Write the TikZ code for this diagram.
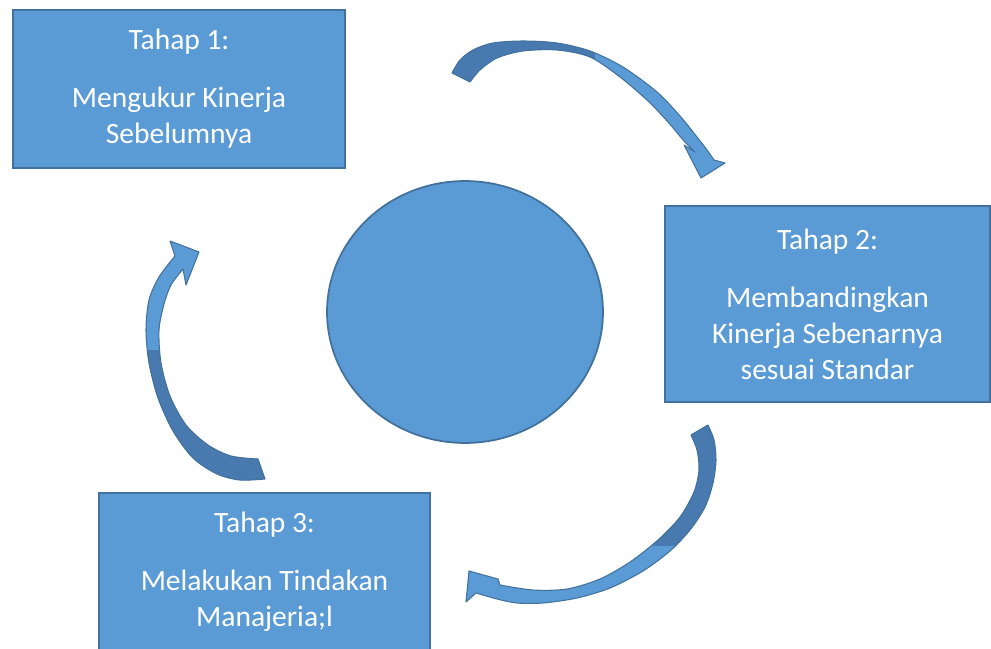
\documentclass[tikz,border=0pt]{standalone}
\usepackage{fontspec}
\setmainfont{Carlito}
\usetikzlibrary{shapes.geometric}
\definecolor{biru}{RGB}{91,155,213}
\definecolor{birutepi}{RGB}{65,113,156}
\definecolor{birugelap}{RGB}{72,122,176}
\tikzstyle{kotak} = [rectangle, draw=birutepi, fill=biru, line width=1pt, text=white, align=center, font=\fontsize{16.8}{20.5}\selectfont]
\tikzstyle{tepi} = [draw=birutepi, line width=0.6pt, line join=round]

\begin{document}
\begin{tikzpicture}[x=0.02cm, y=-0.02cm]
\useasboundingbox (0,0) rectangle (991,649);

%% Lingkaran tengah
	\node[ellipse, draw=birutepi, fill=biru, line width=1pt, inner sep=0pt, minimum width=5.52cm, minimum height=5.24cm] (pusat) at (465,312) {};

%% Kotak tahap
	\node[kotak, minimum width=6.64cm, minimum height=3.16cm] (tahap1) at (179,89) {Tahap 1:\\[12.5pt]Mengukur Kinerja\\Sebelumnya};
	\node[kotak, minimum width=6.5cm, minimum height=3.92cm] (tahap2) at (827.5,304) {Tahap 2:\\[12.5pt]Membandingkan\\Kinerja Sebenarnya\\sesuai Standar};
	\node[kotak, minimum width=6.62cm, minimum height=3.16cm] (tahap3) at (264.5,572) {Tahap 3:\\[12.5pt]Melakukan Tindakan\\Manajeria;l};

%% Panah 1 -> 2
	\path[save path=\panahsatu] plot[smooth] coordinates {(452,73) (460,60) (473,50) (493,43) (523,41) (557,43) (590,51) (623,67) (657,92) (680,116) (697,137) (707,150) (714,160)}
		-- (725,163) -- (701,178) -- (684,145)
		-- plot[smooth] coordinates {(695,152) (684,141) (668,122) (648,101) (620,77) (590,57) (557,50) (523,51) (497,58) (480,70) (470,82)} -- cycle;
	\fill[biru, use path=\panahsatu];
	\begin{scope}
		\clip (440,30) rectangle (595,100);
		\fill[birugelap, use path=\panahsatu];
	\end{scope}
	\path[tepi, use path=\panahsatu];

%% Panah 2 -> 3
	\path[save path=\panahdua] plot[smooth] coordinates {(708,425) (714,440) (716,460) (713,483) (705,507) (690,530) (670,551) (643,571) (610,588) (577,598) (543,603) (517,603) (497,599) (476,593)}
		-- (466,602) -- (469,571) -- (498,579)
		-- plot[smooth] coordinates {(500,585) (533,590) (567,589) (600,579) (630,562) (658,540) (680,517) (694,492) (699,470) (697,450) (691,435)} -- cycle;
	\fill[biru, use path=\panahdua];
	\begin{scope}
		\clip (640,410) rectangle (730,545);
		\fill[birugelap, use path=\panahdua];
	\end{scope}
	\path[tepi, use path=\panahdua];

%% Panah 3 -> 1
	\path[save path=\panahtiga] plot[smooth] coordinates {(265,479) (240,480) (217,474) (193,458) (173,431) (158,398) (149,363) (146,330) (149,300) (159,277) (175,256)}
		-- (170,241) -- (199,252) -- (186,285)
		-- plot[smooth] coordinates {(183,269) (171,285) (164,304) (159,330) (161,363) (170,396) (186,425) (208,445) (231,456) (258,459)} -- cycle;
	\fill[biru, use path=\panahtiga];
	\begin{scope}
		\clip (130,350) rectangle (280,490);
		\fill[birugelap, use path=\panahtiga];
	\end{scope}
	\path[tepi, use path=\panahtiga];

\end{tikzpicture}
\end{document}
